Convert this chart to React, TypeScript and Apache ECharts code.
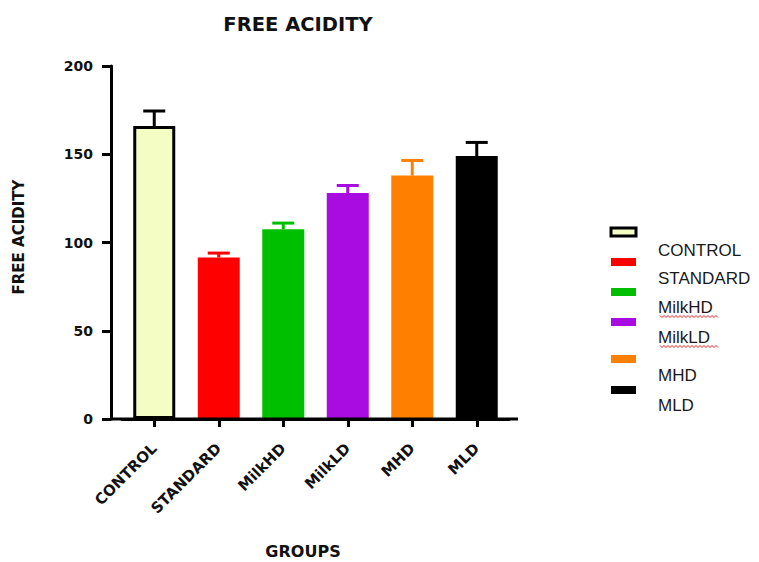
import React, { useEffect, useRef } from "react";
import * as echarts from "echarts";

const categories = ["CONTROL", "STANDARD", "MilkHD", "MilkLD", "MHD", "MLD"];
const means = [166, 91.5, 107.5, 128, 138, 149];
const errors = [8.5, 2.5, 3.5, 4.3, 8.5, 7.7];
const colors = ["#F4FDC4", "#FF0000", "#00BF00", "#A80CE0", "#FF8000", "#000000"];
const errColors = ["#000000", "#FF0000", "#00BF00", "#A80CE0", "#FF8000", "#000000"];
const yTicks = { min: 0, max: 200, interval: 50 };
const titleText = "FREE ACIDITY";
const yName = "FREE ACIDITY";
const xName = "GROUPS";

// layout (pixels)
const GRID = { left: 122, right: 250, top: 66, bottom: 143 };
const AXIS_Y = 562 - GRID.bottom;
const legendRects = [227, 257, 287, 317, 354, 385];
const legendTexts = [250, 278.5, 307.5, 337.5, 375, 405];
const spellFlag = [false, false, true, true, false, false];

const BOLD = "DejaVu Sans";

export default function App() {
  const ref = useRef<HTMLDivElement>(null);
  useEffect(() => {
    if (!ref.current) return;
    const chart = echarts.init(ref.current, undefined, { renderer: "svg" });

    const legendGraphics: any[] = [];
    categories.forEach((c, i) => {
      const isControl = i === 0;
      legendGraphics.push({
        type: "rect",
        shape: { x: 611, y: legendRects[i] + 1, width: 25, height: 8 },
        style: {
          fill: colors[i],
          stroke: isControl ? "#000" : null,
          lineWidth: isControl ? 3 : 0,
        },
      });
      legendGraphics.push({
        type: "text",
        x: 658,
        y: legendTexts[i],
        style: {
          text: c,
          fill: "#1a1a1a",
          font: '17px "Liberation Sans", Arial, sans-serif',
          verticalAlign: "middle",
          align: "left",
        },
      });
      if (spellFlag[i]) {
        const pts: number[][] = [];
        const y0 = legendTexts[i] + 8;
        for (let k = 0; k <= 29; k++) {
          pts.push([660 + k * 2, y0 + (k % 2 === 0 ? 0 : 2)]);
        }
        legendGraphics.push({
          type: "polyline",
          shape: { points: pts },
          style: { stroke: "#E02020", lineWidth: 1, fill: null },
        });
      }
    });

    const option: any = {
      animation: false,
      title: {
        text: titleText,
        left: 298,
        top: 14,
        padding: 0,
        textAlign: "center",
        textStyle: { fontFamily: BOLD, fontWeight: "bold", fontSize: 19.5, color: "#111" },
      },
      grid: { ...GRID, containLabel: false, outerBoundsMode: "none" },
      xAxis: {
        type: "category",
        data: categories,
        axisLine: { show: true, lineStyle: { color: "#000", width: 3 } },
        axisTick: { show: true, alignWithLabel: true, length: 8, lineStyle: { color: "#000", width: 3 } },
        axisLabel: {
          rotate: 45,
          margin: 27,
          fontFamily: BOLD,
          fontWeight: "bold",
          fontSize: 15,
          color: "#111",
          interval: 0,
        },
      },
      yAxis: {
        type: "value",
        min: yTicks.min,
        max: yTicks.max,
        interval: yTicks.interval,
        offset: 11,
        splitLine: { show: false },
        axisLine: { show: true, lineStyle: { color: "#000", width: 3 } },
        axisTick: { show: true, length: 9, lineStyle: { color: "#000", width: 3 } },
        axisLabel: {
          margin: 18,
          fontFamily: BOLD,
          fontWeight: "bold",
          fontSize: 14,
          color: "#111",
        },
      },
      graphic: [
        {
          type: "line",
          shape: { x1: 110, y1: AXIS_Y, x2: 518, y2: AXIS_Y },
          style: { stroke: "#000", lineWidth: 3 },
          z: 100,
        },
        {
          type: "text",
          x: 19,
          y: 237,
          rotation: Math.PI / 2,
          style: {
            text: yName,
            fill: "#111",
            font: `bold 15px "${BOLD}", sans-serif`,
            align: "center",
            verticalAlign: "middle",
          },
        },
        {
          type: "text",
          x: 303,
          y: 551,
          style: {
            text: xName,
            fill: "#111",
            font: `bold 16px "${BOLD}", sans-serif`,
            align: "center",
            verticalAlign: "middle",
          },
        },
        ...legendGraphics,
      ],
      series: [
        {
          type: "bar",
          barWidth: 42,
          data: means.map((v, i) => ({
            value: v,
            itemStyle:
              i === 0
                ? { color: colors[i], borderColor: "#000", borderWidth: 3 }
                : { color: colors[i] },
          })),
          z: 2,
        },
        {
          type: "custom",
          data: means.map((m, i) => [i, m, errors[i]]),
          z: 3,
          renderItem: (params: any, api: any) => {
            const i = api.value(0);
            const m = api.value(1);
            const e = api.value(2);
            const base = api.coord([i, m]);
            const top = api.coord([i, m + e]);
            const col = errColors[params.dataIndex];
            const hw = 11;
            return {
              type: "group",
              children: [
                {
                  type: "line",
                  shape: { x1: base[0], y1: base[1], x2: top[0], y2: top[1] },
                  style: { stroke: col, lineWidth: 3 },
                },
                {
                  type: "line",
                  shape: { x1: top[0] - hw, y1: top[1], x2: top[0] + hw, y2: top[1] },
                  style: { stroke: col, lineWidth: 3 },
                },
              ],
            };
          },
        },
      ],
    };
    chart.setOption(option);
    return () => chart.dispose();
  }, []);
  return (
    <div
      ref={ref}
      style={{ position: "fixed", left: 0, top: 0, width: 759, height: 562, background: "#fff" }}
    />
  );
}
